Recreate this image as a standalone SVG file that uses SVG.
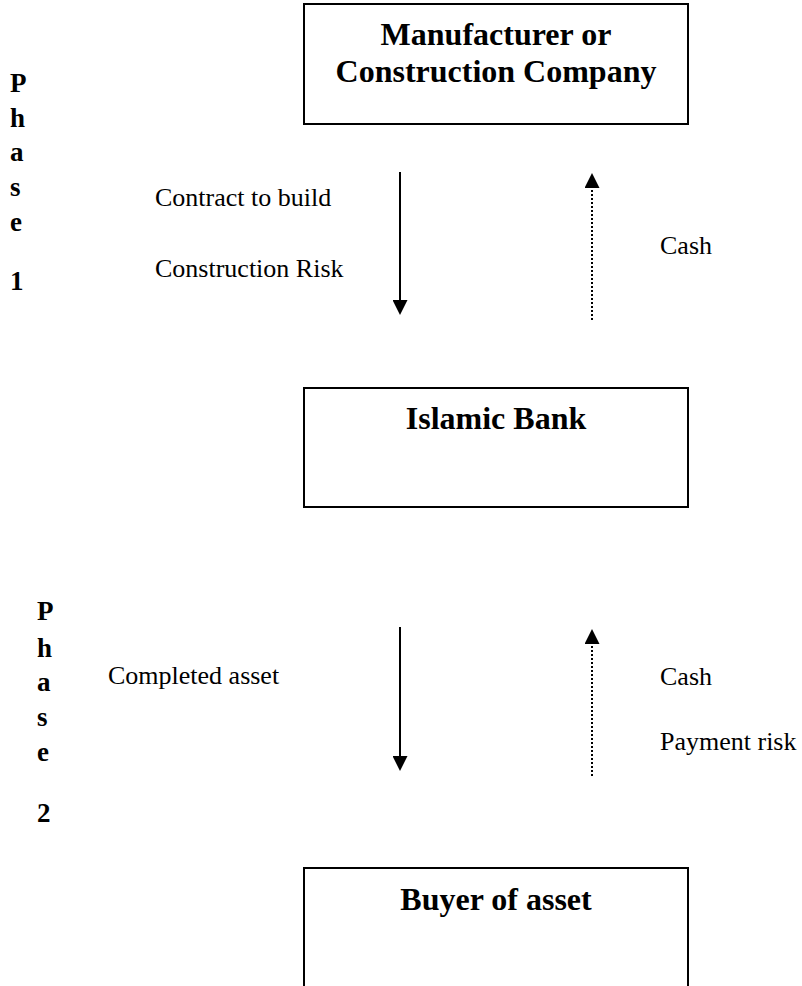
<svg xmlns="http://www.w3.org/2000/svg" width="802" height="986" viewBox="0 0 802 986">
<style>
.box{fill:#fff;stroke:#000;stroke-width:2}
.h{font-family:"Liberation Serif","Times New Roman",serif;font-weight:bold;font-size:32px;text-anchor:middle;fill:#000}
.l{font-family:"Liberation Serif","Times New Roman",serif;font-size:26px;fill:#000}
.p{font-family:"Liberation Serif","Times New Roman",serif;font-weight:bold;font-size:27px;fill:#000}
.solid{stroke:#000;stroke-width:2;fill:none}
.dot{stroke:#000;stroke-width:2;stroke-dasharray:2 2;fill:none}
</style>
<defs>
<marker id="ah" viewBox="0 0 15 15" markerWidth="15" markerHeight="15" refX="3" refY="7.5" orient="auto" markerUnits="userSpaceOnUse">
<path d="M0,0 L15,7.5 L0,15 Z" fill="#000"/>
</marker>
</defs>
<rect width="802" height="986" fill="#fff"/>
<g id="manufacturer">
<rect class="box" x="304" y="4" width="384" height="120"/>
<text class="h" x="496" y="45">Manufacturer or</text>
<text class="h" x="496" y="82">Construction Company</text>
</g>
<g id="bank">
<rect class="box" x="304" y="388" width="384" height="119"/>
<text class="h" x="496" y="429">Islamic Bank</text>
</g>
<g id="buyer">
<rect class="box" x="304" y="868" width="384" height="140"/>
<text class="h" x="496" y="910">Buyer of asset</text>
</g>
<g id="connectors">
<line class="solid" x1="400" y1="172" x2="400" y2="303" marker-end="url(#ah)"/>
<line class="dot" x1="592" y1="320" x2="592" y2="185" marker-end="url(#ah)"/>
<line class="solid" x1="400" y1="627" x2="400" y2="759" marker-end="url(#ah)"/>
<line class="dot" x1="592" y1="776" x2="592" y2="641" marker-end="url(#ah)"/>
</g>
<g id="labels">
<text class="l" x="155" y="206">Contract to build</text>
<text class="l" x="155" y="277">Construction Risk</text>
<text class="l" x="660" y="254">Cash</text>
<text class="l" x="108" y="684">Completed asset</text>
<text class="l" x="660" y="685">Cash</text>
<text class="l" x="660" y="750">Payment risk</text>
</g>
<g id="phase1">
<text class="p" x="10" y="92">P</text>
<text class="p" x="10" y="127">h</text>
<text class="p" x="10" y="161">a</text>
<text class="p" x="10" y="196">s</text>
<text class="p" x="10" y="231">e</text>
<text class="p" x="10" y="290">1</text>
</g>
<g id="phase2">
<text class="p" x="37" y="620">P</text>
<text class="p" x="37" y="657">h</text>
<text class="p" x="37" y="691">a</text>
<text class="p" x="37" y="726">s</text>
<text class="p" x="37" y="761">e</text>
<text class="p" x="37" y="822">2</text>
</g>
</svg>
